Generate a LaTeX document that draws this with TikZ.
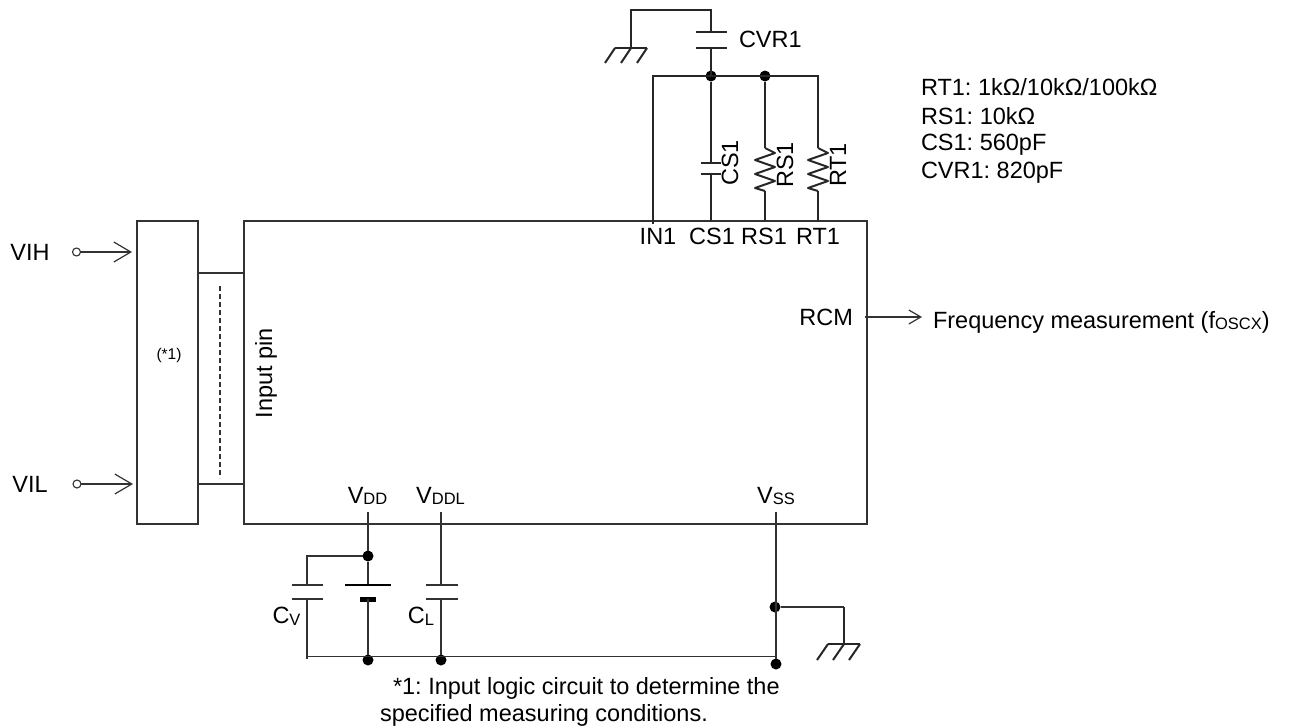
\documentclass[tikz,border=0pt]{standalone}
\usepackage{fontspec}
\setmainfont{Liberation Sans}
\usetikzlibrary{arrows.meta}
\definecolor{ink}{RGB}{50,50,50}
\tikzset{
  x=1pt,y=-1pt,
  every node/.style={inner sep=0pt,outer sep=0pt,text=black,font=\fontsize{23.5}{27}\selectfont\frenchspacing},
  thin wire/.style={draw=ink,line width=1.3pt},
  wire/.style={draw=black!85,line width=2pt},
  plate/.style={draw=black!85,line width=2pt},
  box/.style={draw=ink,line width=1.3pt,fill=none},
  dotn/.style={circle,fill=black,minimum size=11pt},
  openc/.style={circle,draw=ink,line width=1.1pt,fill=white,minimum size=8pt},
  opena/.style={-{Straight Barb[length=17pt,width=20pt,line width=1.2pt]}},
  openb/.style={-{Straight Barb[length=12pt,width=14pt,line width=1.2pt]}},
}
\newcommand{\sbs}[2][1.5pt]{\raisebox{-#1}{\fontsize{16.5}{18}\selectfont #2}}
\begin{document}
\begin{tikzpicture}
\useasboundingbox (0,0) rectangle (1289,726);
% boxes
\node[box,minimum width=623pt,minimum height=303pt,anchor=north west] (chip) at (244,221) {};
\node[box,minimum width=61pt,minimum height=303pt,anchor=north west] (logic) at (137,221) {};
\node[font=\fontsize{15.5}{18}\selectfont] (star) at (169,355) {(*1)};
\node[rotate=90] (inp) at (266,373) {Input pin};
% bus
\coordinate (b1l) at (198,273); \coordinate (b1r) at (244,273);
\coordinate (b2l) at (198,484); \coordinate (b2r) at (244,484);
\coordinate (d1) at (220,286); \coordinate (d2) at (220,478);
\draw[thin wire] (b1l) -- (b1r);
\draw[thin wire] (b2l) -- (b2r);
\draw[draw=ink,line width=1.1pt,dash pattern=on 5pt off 3pt] (d1) -- (d2);
% inputs
\node (vih) at (30,252) {VIH};
\node (vil) at (30,484) {VIL};
\node[openc] (ih) at (76.5,252) {};
\node[openc] (il) at (77,484) {};
\coordinate (ihe) at (132,252); \coordinate (ile) at (133,484);
\draw[thin wire,opena] (ih) -- (ihe);
\draw[thin wire,opena] (il) -- (ile);
% output
\node[anchor=east] (rcm) at (853,317) {RCM};
\coordinate (rs) at (865,317); \coordinate (re) at (922,317);
\draw[thin wire,openb] (rs) -- (re);
\node[anchor=base west] (freq) at (933,328) {Frequency measurement (f\sbs{OSCX})};
% pins
\node (pin1) at (658,236) {IN1};
\node (pin2) at (712,236) {CS1};
\node (pin3) at (764,236) {RS1};
\node (pin4) at (818,236) {RT1};
% top wiring
\coordinate (tn0) at (653,76);
\node[dotn] (tn1) at (711,76) {};
\node[dotn] (tn2) at (765,76) {};
\coordinate (tn3) at (818,76);
\draw[wire] (653,224) -- (tn0) -- (tn3) -- (818,148);
\draw[wire] (tn1) -- (711,163);
\draw[wire] (711,174) -- (711,221);
\draw[plate] (701,163) -- (721,163);
\draw[plate] (701,174) -- (721,174);
\draw[wire] (tn2) -- (765,148);
\draw[wire] (765,191) -- (765,221);
\draw[wire] (818,191) -- (818,221);
\foreach \xx in {765,818}{
  \draw[wire,line join=round] (\xx,148) -- (\xx+10,153) -- (\xx-10,160) -- (\xx+10,167) -- (\xx-10,174) -- (\xx+10,181) -- (\xx-10,188) -- (\xx,191);
}
\node[rotate=90] (lcs) at (730,163) {CS1};
\node[rotate=90] (lrs) at (785,165) {RS1};
\node[rotate=90] (lrt) at (838,165) {RT1};
% CVR1
\draw[wire] (711,76) -- (711,48);
\draw[wire] (696,48) -- (727,48);
\draw[wire] (696,32) -- (727,32);
\draw[wire] (711,32) -- (711,10) -- (631,10) -- (631,48);
\node[anchor=west] (cvr) at (739,39) {CVR1};
\draw[wire] (615,48) -- (647,48);
\draw[wire] (615,48) -- (605,63);
\draw[wire] (631,48) -- (621,63);
\draw[wire] (647,48) -- (637,63);
% values
\node[anchor=west] (v1) at (921,87) {RT1: 1kΩ/10kΩ/100kΩ};
\node[anchor=west] (v2) at (921,116) {RS1: 10kΩ};
\node[anchor=west] (v3) at (921,145) {CS1: 560pF};
\node[anchor=west] (v4) at (921,173) {CVR1: 820pF};
% supply labels
\node[anchor=base] (vdd) at (367.5,503) {V\sbs{DD}};
\node[anchor=base] (vddl) at (440.5,503) {V\sbs{DDL}};
\node[anchor=base] (vss) at (776,503) {V\sbs{SS}};
% bottom wiring
\node[dotn] (n1) at (368,556) {};
\node[dotn] (n2) at (368,660) {};
\node[dotn] (n3) at (441,660) {};
\node[dotn] (n4) at (776,664) {};
\node[dotn] (n5) at (775,607) {};
\draw[thin wire] (368,512) -- (n1);
\draw[thin wire] (n1) -- (368,585);
\draw[thin wire] (n1) -- (307,556) -- (307,585);
\draw[thin wire] (292,585) -- (323,585);
\draw[thin wire] (292,599) -- (323,599);
\draw[thin wire] (307,599) -- (307,659);
\draw[draw=black,line width=2.5pt] (345,585) -- (391,585);
\draw[draw=black,line width=5pt] (360,599) -- (376,599);
\draw[thin wire] (368,599) -- (n2);
\draw[thin wire] (441,512) -- (441,585);
\draw[thin wire] (426,585) -- (458,585);
\draw[thin wire] (426,599) -- (458,599);
\draw[thin wire] (441,599) -- (n3);
\draw[thin wire] (307,656.5) -- (776,656.5);
\draw[thin wire] (776,512) -- (n4);
\draw[thin wire] (n5) -- (844,607);
\draw[wire] (844,607) -- (844,644);
\draw[wire] (828,644) -- (860,644);
\draw[wire] (828,644) -- (817,660);
\draw[wire] (844,644) -- (833,660);
\draw[wire] (860,644) -- (849,660);
\node[anchor=base] (cv) at (286.5,623) {C\sbs[2pt]{V}};
\node[anchor=base] (cl) at (421,623) {C\sbs[2pt]{L}};
\node[anchor=west] (n1a) at (393,688) {*1: Input logic circuit to determine the};
\node[anchor=west] (n1b) at (380,715) {specified measuring conditions.};
\end{tikzpicture}
\end{document}
